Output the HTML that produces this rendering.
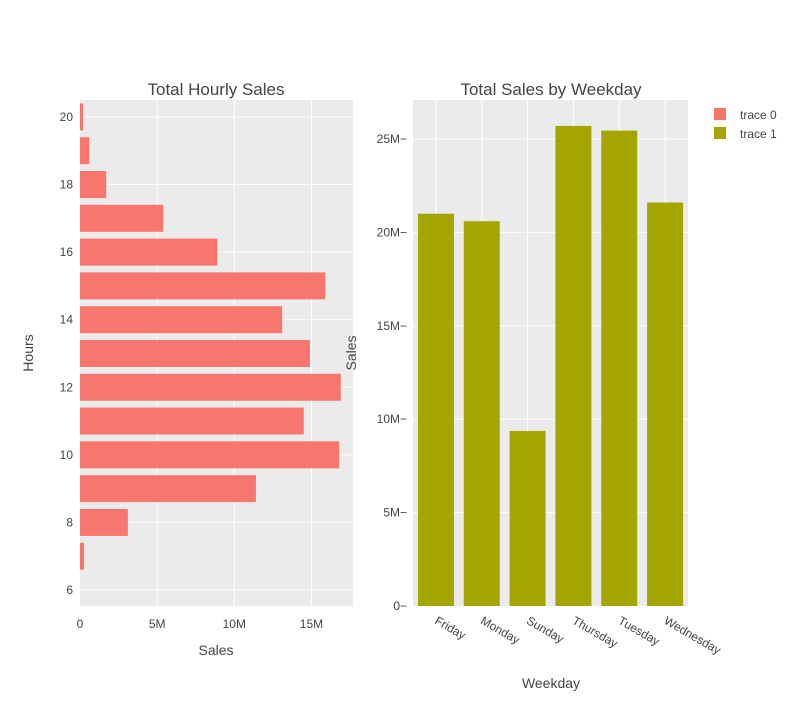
<!DOCTYPE html>
<html><head><meta charset="utf-8"><style>
body{margin:0;background:#fff;font-family:"Liberation Sans",sans-serif}
text{font-family:"Liberation Sans",sans-serif}
</style></head><body>
<svg id="c" width="800" height="700"></svg>
<script>
const hours=[7,8,9,10,11,12,13,14,15,16,17,18,19,20];
const hourlySales=[0.26,3.1,11.4,16.8,14.5,16.9,14.9,13.1,15.9,8.9,5.4,1.7,0.6,0.2];
const hourTicks=[6,8,10,12,14,16,18,20];
const salesTicksLeft=[0,5,10,15];
const weekdays=["Friday","Monday","Sunday","Thursday","Tuesday","Wednesday"];
const weekdaySales=[21.0,20.6,9.37,25.7,25.45,21.6];
const salesTicksRight=[0,5,10,15,20,25];

const NS="http://www.w3.org/2000/svg";
const svg=document.getElementById('c');
function el(t,a,txt){const e=document.createElementNS(NS,t);for(const k in a)e.setAttribute(k,a[k]);if(txt!==undefined)e.textContent=txt;svg.appendChild(e);return e;}
const fmt=v=>v===0?"0":v+"M";

const L={x0:80,x1:353,y0:100,y1:606};
const lx=v=>L.x0+v*15.43;
const ly=h=>590-(h-6)*33.79;
let e=el('rect',{x:L.x0,y:L.y0,width:L.x1-L.x0,height:L.y1-L.y0,fill:'#ebebeb'});


salesTicksLeft.forEach(v=>{
 if(v>0){e=el('line',{x1:lx(v),x2:lx(v),y1:L.y0,y2:L.y1,stroke:'#fff','stroke-width':1});
 }
 e=el('text',{x:lx(v),y:628,'text-anchor':'middle','font-size':12,fill:'#444'},fmt(v));
 
});
hourTicks.forEach(h=>{
 e=el('line',{x1:L.x0,x2:L.x1,y1:ly(h),y2:ly(h),stroke:'#fff','stroke-width':1});
 
 e=el('text',{x:73,y:ly(h)+4,'text-anchor':'end','font-size':12,fill:'#444'},h);
 
});
hours.forEach((h,i)=>{
 e=el('rect',{x:L.x0,y:ly(h)-13.5,width:lx(hourlySales[i])-L.x0,height:27,fill:'#f8766d'});
 
});
e=el('text',{x:216,y:95,'text-anchor':'middle','font-size':17,fill:'#444'},'Total Hourly Sales');

e=el('text',{x:216,y:655,'text-anchor':'middle','font-size':14,fill:'#444'},'Sales');

e=el('text',{x:33,y:353,'text-anchor':'middle','font-size':14,fill:'#444',transform:'rotate(-90 33 353)'},'Hours');


const R={x0:413,x1:688,y0:100,y1:606};
const ry=v=>606-v*18.68;
const bw=(R.x1-R.x0)/weekdays.length;
const rx=i=>R.x0+bw*(i+0.5);
e=el('rect',{x:R.x0,y:R.y0,width:R.x1-R.x0,height:R.y1-R.y0,fill:'#ebebeb'});

salesTicksRight.forEach(v=>{
 if(v>0){e=el('line',{x1:R.x0,x2:R.x1,y1:ry(v),y2:ry(v),stroke:'#fff','stroke-width':1});
 }
 e=el('text',{x:407,y:ry(v)+4,'text-anchor':'end','font-size':12,fill:'#444'},fmt(v)+'−');
 
});
weekdays.forEach((d,i)=>{
 e=el('line',{x1:rx(i),x2:rx(i),y1:R.y0,y2:R.y1,stroke:'#fff','stroke-width':1});
 
});
weekdays.forEach((d,i)=>{
 e=el('rect',{x:rx(i)-18,y:ry(weekdaySales[i]),width:36,height:606-ry(weekdaySales[i]),fill:'#a3a500'});
 
 e=el('text',{x:rx(i)-2,y:623,'font-size':12,fill:'#444',transform:`rotate(30 ${rx(i)-2} 623)`},d);
 
});
e=el('text',{x:551,y:95,'text-anchor':'middle','font-size':17,fill:'#444'},'Total Sales by Weekday');

e=el('text',{x:551,y:688,'text-anchor':'middle','font-size':14,fill:'#444'},'Weekday');

e=el('text',{x:356,y:353,'text-anchor':'middle','font-size':14,fill:'#444',transform:'rotate(-90 356 353)'},'Sales');


[['trace 0','#f8766d'],['trace 1','#a3a500']].forEach((t,i)=>{
 e=el('rect',{x:714,y:108+i*19,width:12,height:12,fill:t[1]});
 
 e=el('text',{x:740,y:119+i*19,'font-size':12,fill:'#444'},t[0]);
 
});
</script>
</body></html>
